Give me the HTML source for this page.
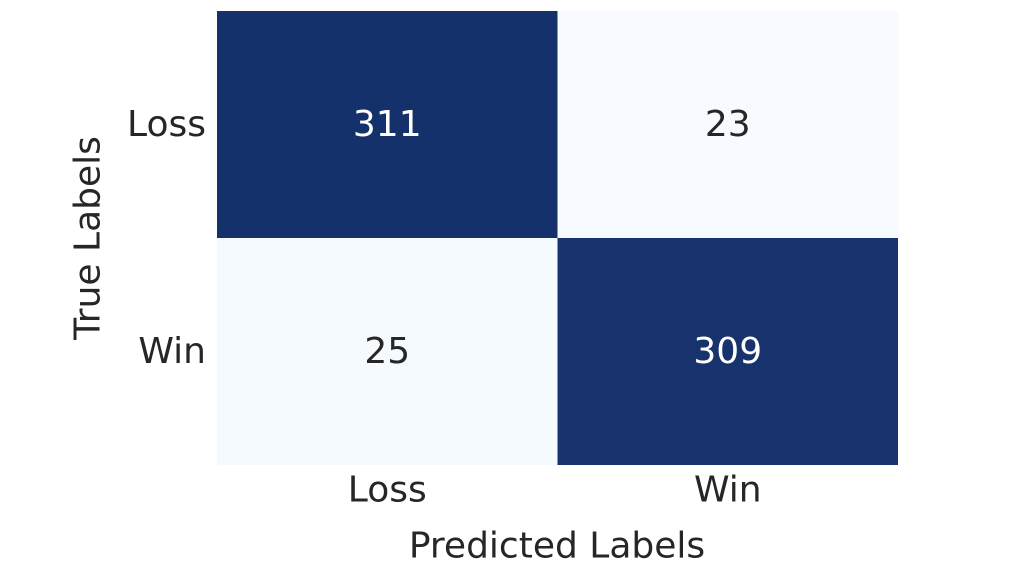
<!DOCTYPE html>
<html><head><meta charset="utf-8"><style>
html,body{margin:0;padding:0;background:#fff;}
svg{display:block;font-family:"DejaVu Sans","Liberation Sans",sans-serif;}
</style></head><body>
<svg id="chart" width="1033" height="566" viewBox="0 0 1033 566">
<g id="cells"></g>
<g id="labels"></g>
<text x="557" y="546" text-anchor="middle" dominant-baseline="central" font-size="36" fill="#262626">Predicted Labels</text>
<text x="88" y="238" text-anchor="middle" dominant-baseline="central" font-size="36" fill="#262626" transform="rotate(-90 88 238)">True Labels</text>
</svg>
<script>
const categories = ["Loss", "Win"];
const rowLoss = [311, 23];
const rowWin = [25, 309];
const values = [rowLoss, rowWin];

const x0 = 217, x1 = 898, y0 = 11, y1 = 465;
const n = categories.length;
const cw = (x1 - x0) / n, ch = (y1 - y0) / n;
const xPos = i => x0 + i * cw;
const yPos = j => y0 + j * ch;
const all = values.flat();
const vmin = Math.min(...all), vmax = Math.max(...all);
function color(v) {
  const t = (v - vmin) / (vmax - vmin || 1);
  const a = [247, 251, 255], b = [21, 49, 107];
  return `rgb(${a.map((c, k) => Math.round(c + (b[k] - c) * t)).join(',')})`;
}
const NS = "http://www.w3.org/2000/svg";
const cells = document.getElementById('cells');
const labels = document.getElementById('labels');
values.forEach((row, j) => {
  row.forEach((v, i) => {
    const r = document.createElementNS(NS, 'rect');
    r.setAttribute('x', xPos(i)); r.setAttribute('y', yPos(j));
    r.setAttribute('width', cw); r.setAttribute('height', ch);
    r.setAttribute('fill', color(v));
    
    
    cells.appendChild(r);
    const t = document.createElementNS(NS, 'text');
    t.setAttribute('x', xPos(i) + cw / 2); t.setAttribute('y', yPos(j) + ch / 2);
    t.setAttribute('text-anchor', 'middle'); t.setAttribute('dominant-baseline', 'central');
    t.setAttribute('font-size', '36');
    t.setAttribute('fill', (v - vmin) / (vmax - vmin || 1) > 0.5 ? '#ffffff' : '#262626');
    t.textContent = v;
    
    
    cells.appendChild(t);
  });
});
categories.forEach((c, i) => {
  const tx = document.createElementNS(NS, 'text');
  tx.setAttribute('x', xPos(i) + cw / 2); tx.setAttribute('y', 490);
  tx.setAttribute('text-anchor', 'middle'); tx.setAttribute('dominant-baseline', 'central');
  tx.setAttribute('font-size', '36'); tx.setAttribute('fill', '#262626');
  tx.textContent = c;
  
  
  labels.appendChild(tx);
  const ty = document.createElementNS(NS, 'text');
  ty.setAttribute('x', 206); ty.setAttribute('y', yPos(i) + ch / 2);
  ty.setAttribute('text-anchor', 'end'); ty.setAttribute('dominant-baseline', 'central');
  ty.setAttribute('font-size', '36'); ty.setAttribute('fill', '#262626');
  ty.textContent = c;
  
  
  labels.appendChild(ty);
});
</script>
</body></html>
